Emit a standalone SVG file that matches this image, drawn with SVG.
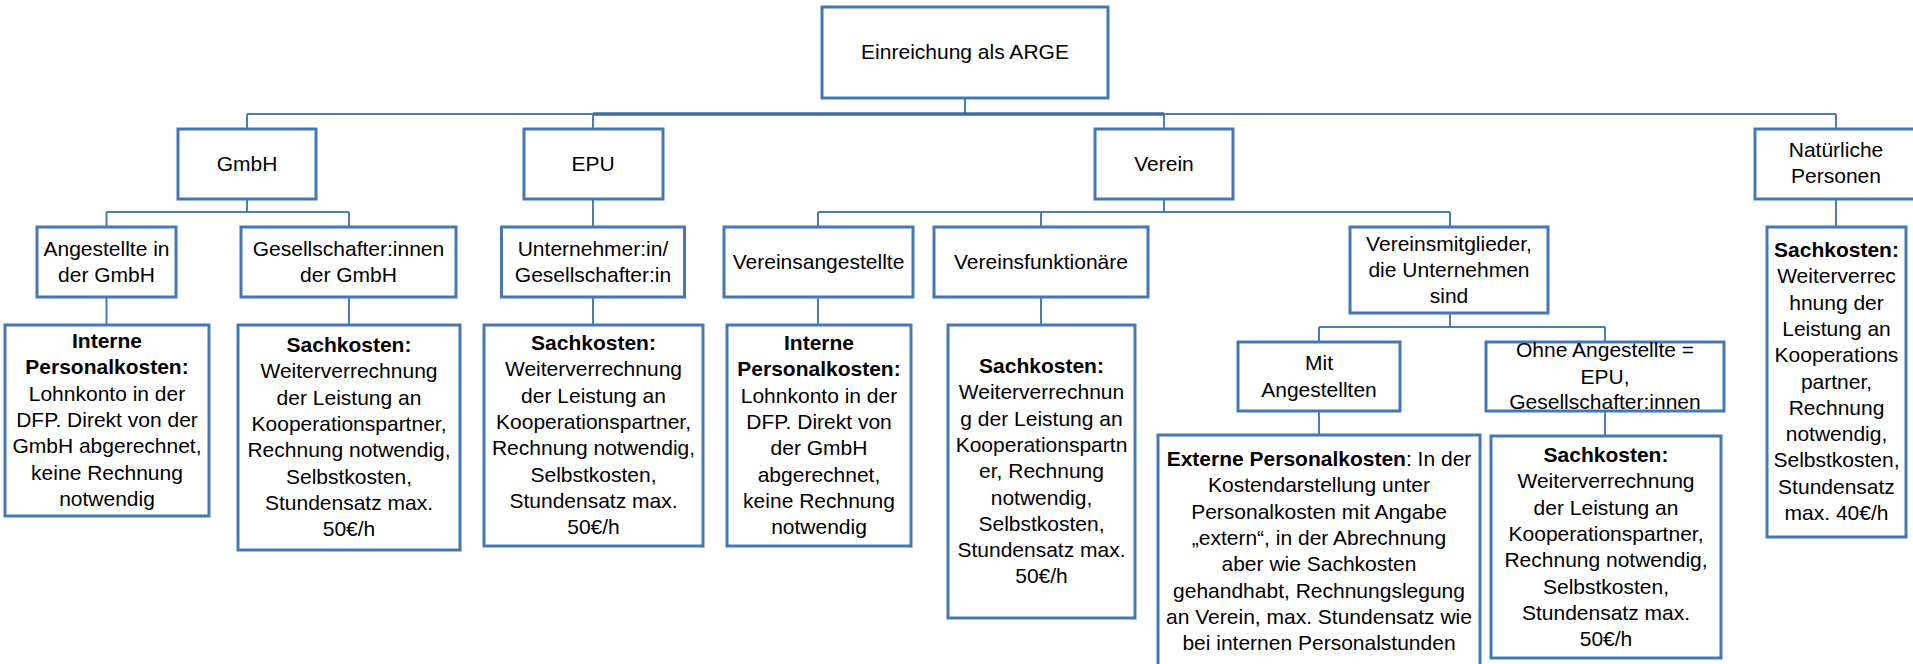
<svg xmlns="http://www.w3.org/2000/svg" width="1913" height="664" viewBox="0 0 1913 664">
<style>
.box{fill:#fff;stroke:#4478b2;stroke-width:3}
.c{fill:none;stroke:#4a7db6;stroke-width:2}
.ct{fill:none;stroke:#3a6e9c;stroke-width:3.5}
text{font-family:"Liberation Sans",Arial,sans-serif;font-size:21px;fill:#000;text-anchor:middle}
.b{font-weight:bold}
</style>
<rect width="1913" height="664" fill="#fff"/>
<g id="connectors">
<path class="c" d="M965 98V114M247 114H1836M247 114V129M593 114V129M1164 114V129M1836 114V129"/>
<path class="ct" d="M593 114H1164"/>
<path class="c" d="M247 199V212M106.5 212H349M106.5 212V227M349 212V227"/>
<path class="c" d="M593 199V227"/>
<path class="c" d="M1164 199V212M818 212H1450M818 212V227M1041 212V227M1450 212V227"/>
<path class="c" d="M1836 199V227"/>
<path class="c" d="M106.5 297V325M349 297V325M593 297V325M818 297V325M1041 297V325"/>
<path class="c" d="M1450 313V327M1319 327H1605M1319 327V342M1605 327V342"/>
<path class="c" d="M1319 411V435M1605 411V436"/>
</g>
<g id="root"><rect class="box" x="822" y="7" width="286" height="91"/><text x="965" y="59">Einreichung als ARGE</text></g>
<g id="gmbh"><rect class="box" x="178" y="129" width="138" height="70"/><text x="247" y="171">GmbH</text></g>
<g id="epu"><rect class="box" x="524" y="129" width="139" height="70"/><text x="593" y="171">EPU</text></g>
<g id="verein"><rect class="box" x="1095" y="129" width="138" height="70"/><text x="1164" y="171">Verein</text></g>
<g id="natuerliche"><rect class="box" x="1755" y="129" width="162" height="70"/><text x="1836" y="157">Natürliche</text><text x="1836" y="183">Personen</text></g>
<g id="angestellte-gmbh"><rect class="box" x="37" y="227" width="139" height="70"/><text x="106.5" y="256">Angestellte in</text><text x="106.5" y="282">der GmbH</text></g>
<g id="gesellschafter-gmbh"><rect class="box" x="241" y="227" width="215" height="70"/><text x="348.5" y="256">Gesellschafter:innen</text><text x="348.5" y="282">der GmbH</text></g>
<g id="unternehmer"><rect class="box" x="501.5" y="227" width="183" height="70"/><text x="593" y="256">Unternehmer:in/</text><text x="593" y="282">Gesellschafter:in</text></g>
<g id="vereinsangestellte"><rect class="box" x="724" y="227" width="189" height="70"/><text x="818.5" y="269">Vereinsangestellte</text></g>
<g id="vereinsfunktionaere"><rect class="box" x="934" y="227" width="214" height="70"/><text x="1041" y="269">Vereinsfunktionäre</text></g>
<g id="vereinsmitglieder"><rect class="box" x="1350" y="227" width="198" height="86"/><text x="1449" y="251">Vereinsmitglieder,</text><text x="1449" y="277">die Unternehmen</text><text x="1449" y="303">sind</text></g>
<g id="np-sachkosten"><rect class="box" x="1767" y="227" width="139" height="310"/>
<text x="1836.5" y="257" class="b">Sachkosten:</text>
<text x="1836.5" y="283">Weiterverrec</text>
<text x="1836.5" y="309.5">hnung der</text>
<text x="1836.5" y="335.5">Leistung an</text>
<text x="1836.5" y="362">Kooperations</text>
<text x="1836.5" y="388.5">partner,</text>
<text x="1836.5" y="415">Rechnung</text>
<text x="1836.5" y="441">notwendig,</text>
<text x="1836.5" y="467">Selbstkosten,</text>
<text x="1836.5" y="493.5">Stundensatz</text>
<text x="1836.5" y="520">max. 40€/h</text>
</g>
<g id="interne-gmbh"><rect class="box" x="5" y="325" width="204" height="191"/>
<text x="107" y="348" class="b">Interne</text>
<text x="107" y="374.3" class="b">Personalkosten:</text>
<text x="107" y="400.6">Lohnkonto in der</text>
<text x="107" y="426.9">DFP. Direkt von der</text>
<text x="107" y="453.2">GmbH abgerechnet,</text>
<text x="107" y="479.5">keine Rechnung</text>
<text x="107" y="505.8">notwendig</text>
</g>
<g id="sachkosten-gmbh"><rect class="box" x="238" y="325" width="222" height="225"/>
<text x="349" y="352" class="b">Sachkosten:</text>
<text x="349" y="378.3">Weiterverrechnung</text>
<text x="349" y="404.6">der Leistung an</text>
<text x="349" y="430.9">Kooperationspartner,</text>
<text x="349" y="457.2">Rechnung notwendig,</text>
<text x="349" y="483.5">Selbstkosten,</text>
<text x="349" y="509.8">Stundensatz max.</text>
<text x="349" y="536.1">50€/h</text>
</g>
<g id="sachkosten-epu"><rect class="box" x="484" y="325" width="219" height="221"/>
<text x="593.5" y="350" class="b">Sachkosten:</text>
<text x="593.5" y="376.3">Weiterverrechnung</text>
<text x="593.5" y="402.6">der Leistung an</text>
<text x="593.5" y="428.9">Kooperationspartner,</text>
<text x="593.5" y="455.2">Rechnung notwendig,</text>
<text x="593.5" y="481.5">Selbstkosten,</text>
<text x="593.5" y="507.8">Stundensatz max.</text>
<text x="593.5" y="534.1">50€/h</text>
</g>
<g id="interne-verein"><rect class="box" x="727" y="325" width="184" height="221"/>
<text x="819" y="350" class="b">Interne</text>
<text x="819" y="376.3" class="b">Personalkosten:</text>
<text x="819" y="402.6">Lohnkonto in der</text>
<text x="819" y="428.9">DFP. Direkt von</text>
<text x="819" y="455.2">der GmbH</text>
<text x="819" y="481.5">abgerechnet,</text>
<text x="819" y="507.8">keine Rechnung</text>
<text x="819" y="534.1">notwendig</text>
</g>
<g id="sachkosten-funktionaere"><rect class="box" x="948" y="325" width="187" height="293"/>
<text x="1041.5" y="373" class="b">Sachkosten:</text>
<text x="1041.5" y="399.3">Weiterverrechnun</text>
<text x="1041.5" y="425.6">g der Leistung an</text>
<text x="1041.5" y="451.9">Kooperationspartn</text>
<text x="1041.5" y="478.2">er, Rechnung</text>
<text x="1041.5" y="504.5">notwendig,</text>
<text x="1041.5" y="530.8">Selbstkosten,</text>
<text x="1041.5" y="557.1">Stundensatz max.</text>
<text x="1041.5" y="583.4">50€/h</text>
</g>
<g id="mit-angestellten"><rect class="box" x="1238" y="342" width="162" height="69"/><text x="1319" y="370">Mit</text><text x="1319" y="397">Angestellten</text></g>
<g id="ohne-angestellte"><rect class="box" x="1486" y="342" width="238" height="69"/><text x="1605" y="357">Ohne Angestellte =</text><text x="1605" y="384">EPU,</text><text x="1605" y="409">Gesellschafter:innen</text></g>
<g id="externe"><rect class="box" x="1158" y="435" width="322" height="245"/>
<text x="1319" y="466"><tspan class="b">Externe Personalkosten</tspan>: In der</text>
<text x="1319" y="492.3">Kostendarstellung unter</text>
<text x="1319" y="518.6">Personalkosten mit Angabe</text>
<text x="1319" y="544.9">„extern“, in der Abrechnung</text>
<text x="1319" y="571.2">aber wie Sachkosten</text>
<text x="1319" y="597.5">gehandhabt, Rechnungslegung</text>
<text x="1319" y="623.8">an Verein, max. Stundensatz wie</text>
<text x="1319" y="650.1">bei internen Personalstunden</text>
</g>
<g id="sachkosten-ohne"><rect class="box" x="1491" y="436" width="230" height="222"/>
<text x="1606" y="462" class="b">Sachkosten:</text>
<text x="1606" y="488.3">Weiterverrechnung</text>
<text x="1606" y="514.6">der Leistung an</text>
<text x="1606" y="540.9">Kooperationspartner,</text>
<text x="1606" y="567.2">Rechnung notwendig,</text>
<text x="1606" y="593.5">Selbstkosten,</text>
<text x="1606" y="619.8">Stundensatz max.</text>
<text x="1606" y="646.1">50€/h</text>
</g>
</svg>
